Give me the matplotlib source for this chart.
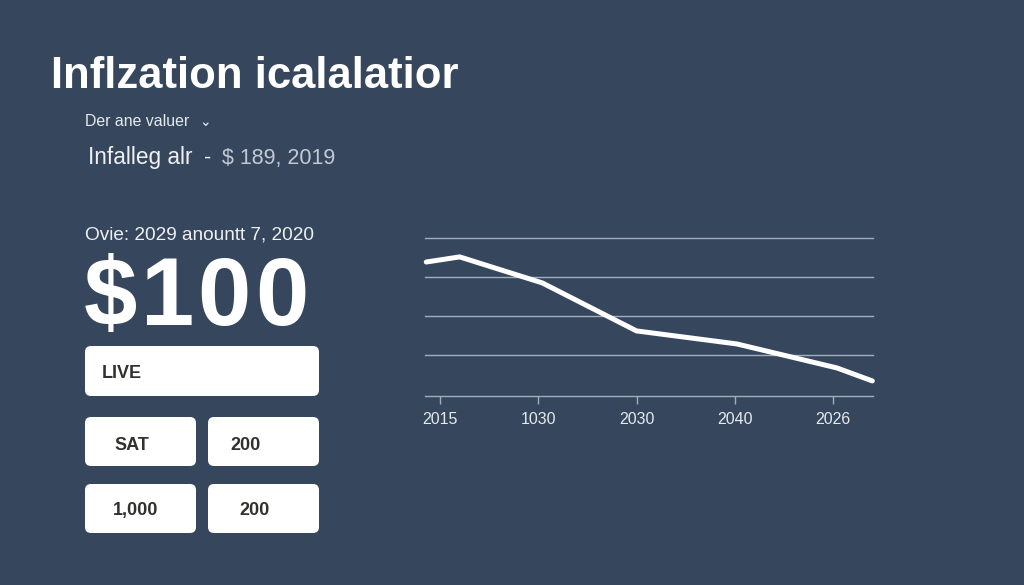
import matplotlib
matplotlib.use("Agg")
import matplotlib.pyplot as plt
from matplotlib.patches import FancyBboxPatch

plt.rcParams['font.family'] = ['Liberation Sans', 'DejaVu Sans']

bg = '#36465c'
W, H = 1024, 585

# chart data
tick_pos = [0, 1, 2, 3, 4]
tick_labels = ['2015', '1030', '2030', '2040', '2026']
line_x = [-0.14, 0.2, 1.04, 2.0, 3.02, 4.04, 4.4]
line_y = [3.39, 3.52, 2.86, 1.64, 1.31, 0.70, 0.37]
grid_y = [1.03, 2.02, 3.0, 4]

# left panel cards: label, text x, card box
card_labels = ['LIVE', 'SAT', '200', '1,000', '200']
card_text_x = [102, 114, 230, 113, 239]
card_text_y = [378, 450, 450, 515, 515]
card_boxes = [(85, 346, 234, 50), (85, 417, 111, 49), (208, 417, 111, 49),
              (85, 484, 111, 49), (208, 484, 111, 49)]

# big number, spaced out by hand
big_chars = ['$', '1', '0', '0']
big_x = [84, 141, 197, 255]

fig = plt.figure(figsize=(W / 100, H / 100), dpi=100, facecolor=bg)

# overlay in pixel coordinates for the text and cards
bgax = fig.add_axes([0, 0, 1, 1])
bgax.set_xlim(0, W)
bgax.set_ylim(H, 0)
bgax.axis('off')

bgax.text(51, 88, 'Inflzation icalalatior', color='white', fontsize=31.4, fontweight='bold', va='baseline')
bgax.text(85, 126, 'Der ane valuer', color='#e6e9ee', fontsize=11.4, va='baseline')
bgax.text(199, 122, '\u2304', color='#e6e9ee', fontsize=10, va='center', family=['DejaVu Sans'])
bgax.text(88, 164, 'Infalleg alr', color='#eef0f3', fontsize=16.3, va='baseline')
bgax.text(204, 164, '-', color='#eef0f3', fontsize=15.5, va='baseline')
bgax.text(222, 164, '$ 189, 2019', color='#c3cad5', fontsize=15.5, va='baseline')
bgax.text(85, 239, 'Ovie: 2029 anountt 7, 2020', color='#eef0f3', fontsize=13.7, va='baseline')
for ch, x in zip(big_chars, big_x):
    bgax.text(x, 325, ch, color='white', fontsize=69, fontweight='bold', va='baseline')

for (x, y, w, h), label, tx, ty in zip(card_boxes, card_labels, card_text_x, card_text_y):
    box = FancyBboxPatch((x + 6, y + 6), w - 12, h - 12, boxstyle='round,pad=6,rounding_size=6',
                         fc='white', ec='none')
    bgax.add_patch(box)
    bgax.text(tx, ty, label, color='#33312f', fontsize=13.0, fontweight='bold', va='baseline')

# line chart
ax = fig.add_axes([425 / W, 1 - 395.5 / H, 448 / W, 157.5 / H])
ax.patch.set_alpha(0)
ax.set_xlim(-0.153, 4.407)
ax.set_ylim(0, 4)
for g in grid_y:
    ax.axhline(g, color='#a3adbc', lw=1.0, zorder=1, clip_on=False)
ax.plot(line_x, line_y, color='white', lw=3.6, solid_joinstyle='miter', solid_capstyle='round', zorder=3, clip_on=False)

for s in ['top', 'left', 'right']:
    ax.spines[s].set_visible(False)
ax.spines['bottom'].set_color('#a3adbc')
ax.spines['bottom'].set_linewidth(1.0)
ax.set_yticks([])
ax.set_xticks(tick_pos)
ax.set_xticklabels(tick_labels)
ax.tick_params(axis='x', direction='out', length=6, width=1, color='#a3adbc',
               labelcolor='#e6e9ee', labelsize=11.5, pad=6)

fig.savefig('out.png', dpi=100, facecolor=bg)
